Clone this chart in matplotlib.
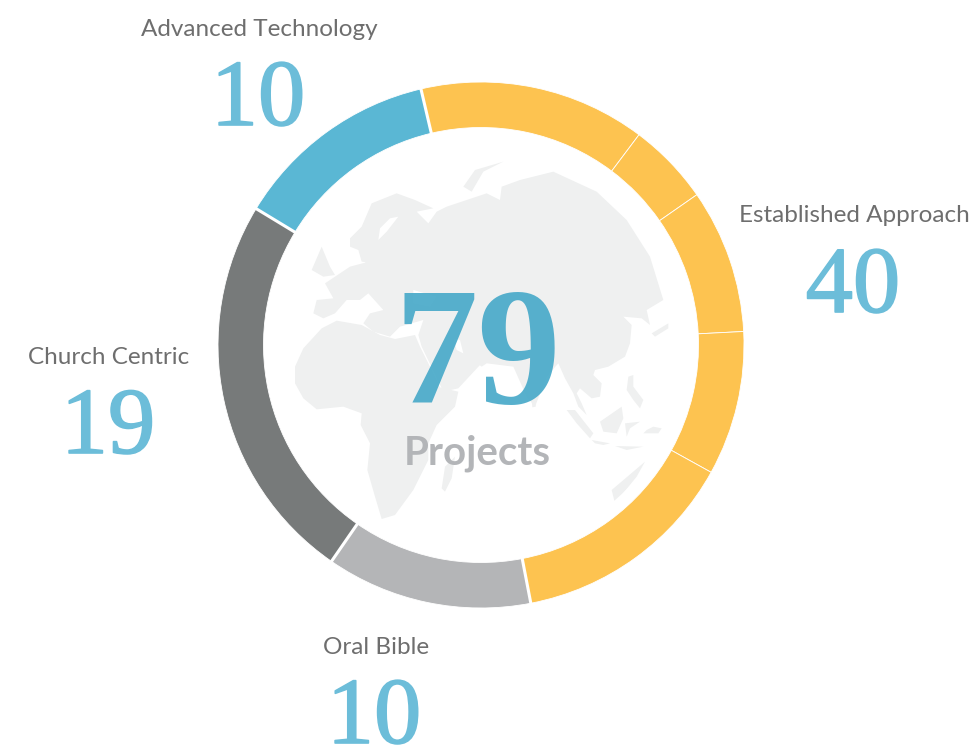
import matplotlib
matplotlib.use("Agg")
import matplotlib.pyplot as plt
import matplotlib.patheffects as pe
from matplotlib.patches import Polygon, Circle
import numpy as np

# ring data, clockwise from the top of the blue segment
segments = [11, 4, 7, 7, 11, 10, 19, 10]
seg_colors = ["#FDC350", "#FDC350", "#FDC350", "#FDC350", "#FDC350", "#B4B5B7", "#777A7A", "#5AB7D4"]
group_ends = [40, 50, 69, 79]
total = 79

labels = ["Advanced Technology", "Established Approach", "Church Centric", "Oral Bible"]
counts = ["10", "40", "19", "10"]
label_xy = [(259, 29), (854, 216), (109, 357), (376, 648)]
count_xy = [(258, 125), (853, 312), (108, 453), (374, 743)]

# world map backdrop (zoomed crop coords)
africa = [(45,650),(70,595),(125,535),(170,512),(245,525),(300,555),(345,567),(405,555),(420,590),(450,650),
          (480,712),(535,725),(525,770),(470,825),(445,880),(445,930),(400,1020),(345,1095),(305,1107),(285,1040),
          (262,960),(270,880),(242,825),(245,790),(190,770),(110,778),(70,745),(45,700)]
eurasia = [(100,490),(110,450),(160,445),(135,400),(180,370),(210,350),(255,338),(295,310),(305,275),(340,272),(385,268),
           (345,275),(335,295),(300,320),(270,338),(245,335),(235,300),(210,290),(210,265),(245,230),(275,160),(350,130),
           (405,150),(460,175),(410,185),(445,220),(470,185),(500,170),(560,150),(620,130),(660,150),(665,110),(720,90),
           (820,65),(950,125),(1040,210),(1110,320),(1150,450),(1100,480),(1110,525),(1085,505),(1030,500),(1055,525),
           (1050,580),(1035,620),(985,650),(945,660),(940,675),(965,700),(960,740),(935,745),(900,715),(890,730),(905,760),
           (920,795),(895,770),(880,730),(855,685),(835,640),(800,680),(765,770),(740,740),(700,650),(620,640),(605,650),
           (540,600),(600,645),(535,715),(490,725),(425,590),(415,555),(430,510),(360,530),(330,560),(280,545),(250,520),
           (270,490),(310,480),(265,430),(240,450),(200,450),(165,490),(130,505)]
great_britain = [(95,360),(125,290),(150,350),(165,375),(130,380)]
scandinavia_gap = [(355,200),(330,205),(300,235),(295,270),(320,245)]
novaya = [(550,110),(585,60),(670,35),(610,65),(575,125)]
madagascar = [(485,1015),(495,950),(525,920),(515,985),(495,1025)]
sri_lanka = [(755,750),(765,745),(767,770),(757,772)]
japan = [(1115,550),(1165,520),(1165,535),(1125,560)]
sumatra = [(860,780),(885,780),(940,850),(930,865),(890,820)]
java = [(935,870),(990,880),(970,885),(945,880)]
lesser_sunda = [(1005,888),(1090,890),(1040,900)]
borneo = [(960,815),(1025,770),(1030,805),(1010,850),(970,845)]
philippines = [(1045,680),(1060,675),(1060,710),(1090,750),(1080,775),(1060,750),(1040,720)]
sulawesi = [(1035,820),(1080,815),(1050,835),(1040,860)]
new_guinea = [(1100,840),(1120,830),(1145,835),(1135,850),(1090,850)]
australia = [(995,1020),(1095,935),(1070,980),(1005,1060)]
black_sea = [(400,420),(470,440),(450,470),(400,460)]
caspian = [(520,565),(540,570),(550,610),(530,600)]
land = [africa, eurasia, great_britain, novaya, madagascar, sri_lanka, japan, sumatra, java, lesser_sunda, borneo,
        philippines, sulawesi, new_guinea, australia]
water = [scandinavia_gap, black_sea, caspian]

cx, cy, outer, inner = 481, 345, 263, 217.5
H = 747


def crop_to_fig(pts):
    return [(280 + x / 3, H - (150 + y / 3)) for x, y in pts]


fig = plt.figure(figsize=(9.79, 7.47), dpi=100)
ax = fig.add_axes([0, 0, 1, 1])

# map first, so the big number sits on top of it
globe = Circle((cx, H - cy), 205, transform=ax.transData)
for shape in land:
    p = Polygon(crop_to_fig(shape), closed=True, fc="#EFF0F0", ec="none", zorder=1)
    ax.add_patch(p)
    p.set_clip_path(globe)
for shape in water:
    ax.add_patch(Polygon(crop_to_fig(shape), closed=True, fc="white", ec="none", zorder=1.5))

start = 103.2
ax.pie(segments, colors=seg_colors, startangle=start, counterclock=False, radius=outer, center=(cx, H - cy),
       wedgeprops=dict(width=outer - inner, edgecolor="white", linewidth=0.6), frame=True)

# heavier white gaps between the groups
for end in group_ends:
    a = np.radians(start - end / total * 360)
    ax.plot([cx + (inner - 2) * np.cos(a), cx + (outer + 2) * np.cos(a)],
            [H - cy + (inner - 2) * np.sin(a), H - cy + (outer + 2) * np.sin(a)],
            color="white", lw=2.2, zorder=5, solid_capstyle="butt")

for name, n, (lx, ly), (nx, ny) in zip(labels, counts, label_xy, count_xy):
    ax.text(lx, H - ly, name, ha="center", va="center", fontsize=17.5, family="Lato", color="#6E6E6E")
    ax.text(nx, H - ny, n, ha="center", va="baseline", fontsize=68, family="Liberation Serif", color="#6CBDD9",
            path_effects=[pe.withStroke(linewidth=1.2, foreground="#6CBDD9")])

ax.text(478, H - 403, "79", ha="center", va="baseline", fontsize=120, family="Liberation Serif", weight="bold",
        color="#45A8C8", alpha=0.9, zorder=6)
ax.text(477, H - 465, "Projects", ha="center", va="baseline", fontsize=29, family="Lato", weight="bold",
        color="#B3B5B8", zorder=6)

ax.set_xlim(0, 979)
ax.set_ylim(0, 747)
ax.set_aspect("auto")
ax.axis("off")
fig.savefig("out.png", dpi=100)
